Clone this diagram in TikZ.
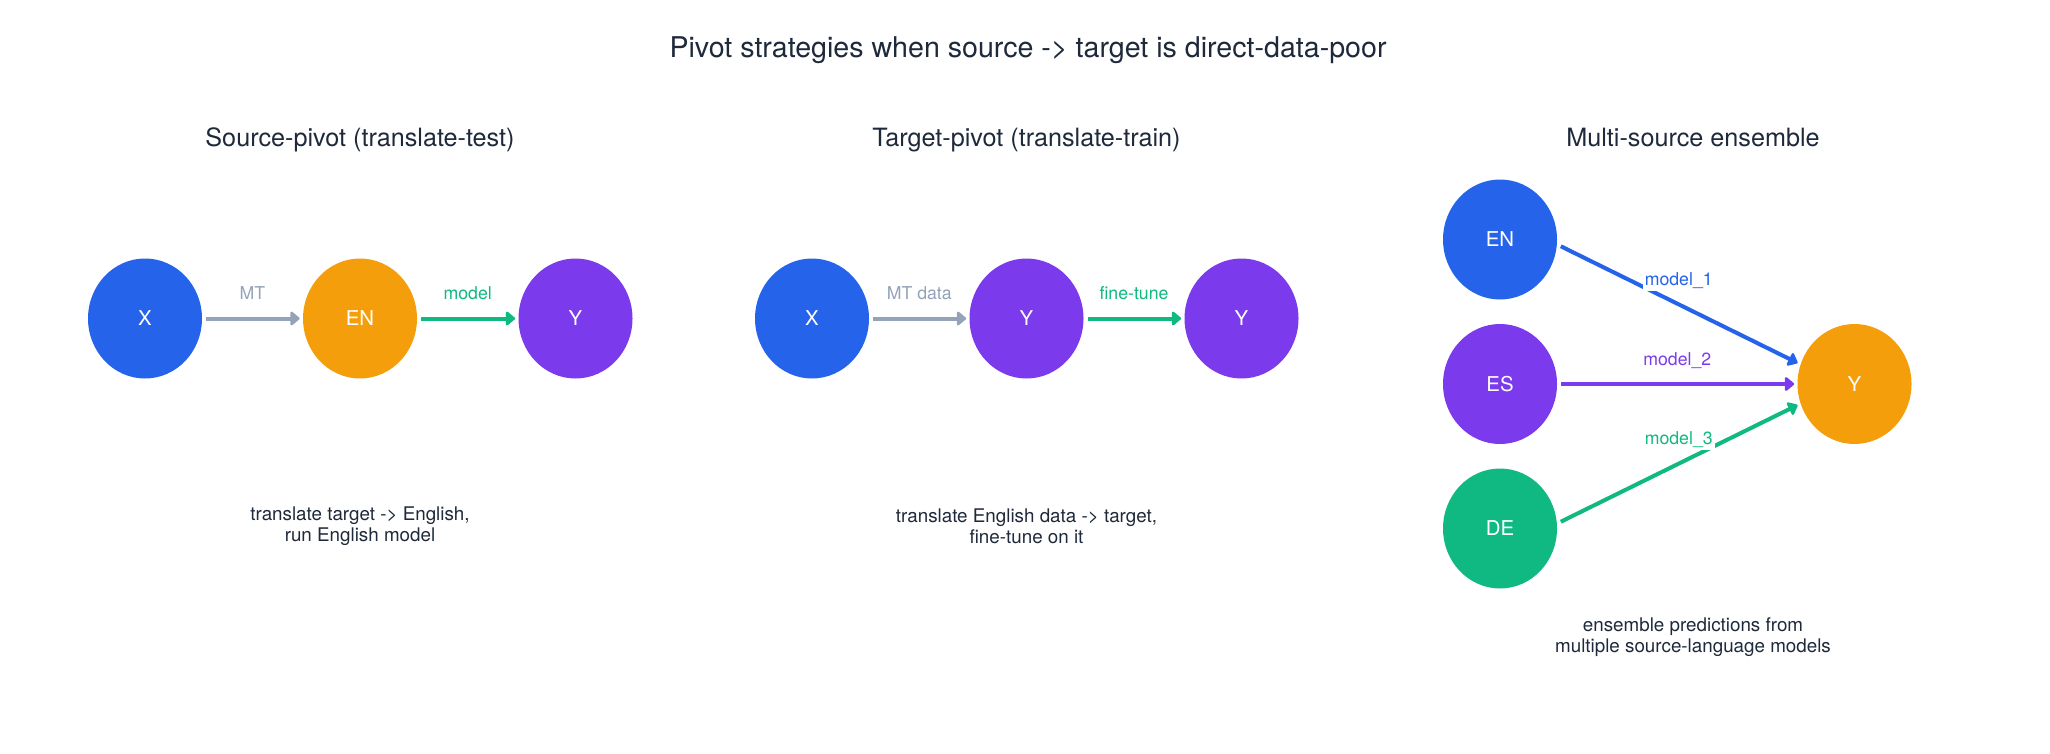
\documentclass[tikz,border=0pt]{standalone}
\usepackage{fontspec}
\setmainfont{TeX Gyre Heros}
\usetikzlibrary{positioning}
\usetikzlibrary{shapes.geometric}
\usetikzlibrary{arrows.meta}
\definecolor{blue}{HTML}{2563EB}
\definecolor{orange}{HTML}{F59E0B}
\definecolor{purple}{HTML}{7C3AED}
\definecolor{green}{HTML}{10B981}
\definecolor{gray}{HTML}{94A3B8}
\definecolor{ink}{HTML}{1E293B}

\begin{document}
\begin{tikzpicture}[x=50pt,y=50pt,
	lang/.style={ellipse,minimum width=57pt,minimum height=60pt,inner sep=0pt,text=white,font=\fontsize{10.2}{12}\selectfont},
	conn/.style={line width=2pt,-{Triangle[length=5pt,width=8pt,round]},shorten <=2pt,shorten >=1.5pt},
	elabel/.style={midway,anchor=base,yshift=9.5pt,fill=white,inner sep=1pt,font=\fontsize{8.85}{10}\selectfont},
	heading/.style={anchor=base,text=ink,font=\fontsize{12.6}{15}\selectfont},
	note/.style={align=center,text=ink,font=\fontsize{9.4}{10.5}\selectfont}]
	\useasboundingbox (0,0) rectangle (20.5,-7.54);

	\node[anchor=base,text=ink,font=\fontsize{14.3}{17}\selectfont] (title) at (10.28,-0.58) {Pivot strategies when source -> target is direct-data-poor};

	% source-pivot
	\node[heading] (srchead) at (3.60,-1.46) {Source-pivot (translate-test)};
	\foreach \n/\x/\t/\c in {x/1.45/X/blue, en/3.60/EN/orange, y/5.755/Y/purple}
		\node[lang,fill=\c] (src\n) at (\x,-3.185) {\t};
	\draw[conn,gray] (srcx) -- node[elabel,text=gray] {MT} (srcen);
	\draw[conn,green] (srcen) -- node[elabel,text=green] {model} (srcy);
	\node[note] (srcnote) at (3.60,-5.26) {translate target -> English,\\run English model};

	% target-pivot
	\node[heading] (tgthead) at (10.265,-1.46) {Target-pivot (translate-train)};
	\foreach \n/\x/\t/\c in {x/8.12/X/blue, y/10.265/Y/purple, yy/12.415/Y/purple}
		\node[lang,fill=\c] (tgt\n) at (\x,-3.185) {\t};
	\draw[conn,gray] (tgtx) -- node[elabel,text=gray] {MT data} (tgty);
	\draw[conn,green] (tgty) -- node[elabel,text=green] {fine-tune} (tgtyy);
	\node[note] (tgtnote) at (10.265,-5.26) {translate English data -> target,\\fine-tune on it};

	% multi-source ensemble
	\node[heading] (enshead) at (16.93,-1.46) {Multi-source ensemble};
	\foreach \n/\y/\t/\c in {en/-2.395/EN/blue, es/-3.84/ES/purple, de/-5.285/DE/green}
		\node[lang,fill=\c] (ens\n) at (15.0,\y) {\t};
	\node[lang,fill=orange] (ensy) at (18.545,-3.84) {Y};
	\draw[conn,blue] (ensen.-5) -- node[elabel,text=blue] {model\_1} (ensy.160);
	\draw[conn,purple] (enses) -- node[elabel,text=purple] {model\_2} (ensy);
	\draw[conn,green] (ensde.5) -- node[elabel,text=green] {model\_3} (ensy.200);
	\node[note] (ensnote) at (16.93,-6.37) {ensemble predictions from\\multiple source-language models};
\end{tikzpicture}
\end{document}
